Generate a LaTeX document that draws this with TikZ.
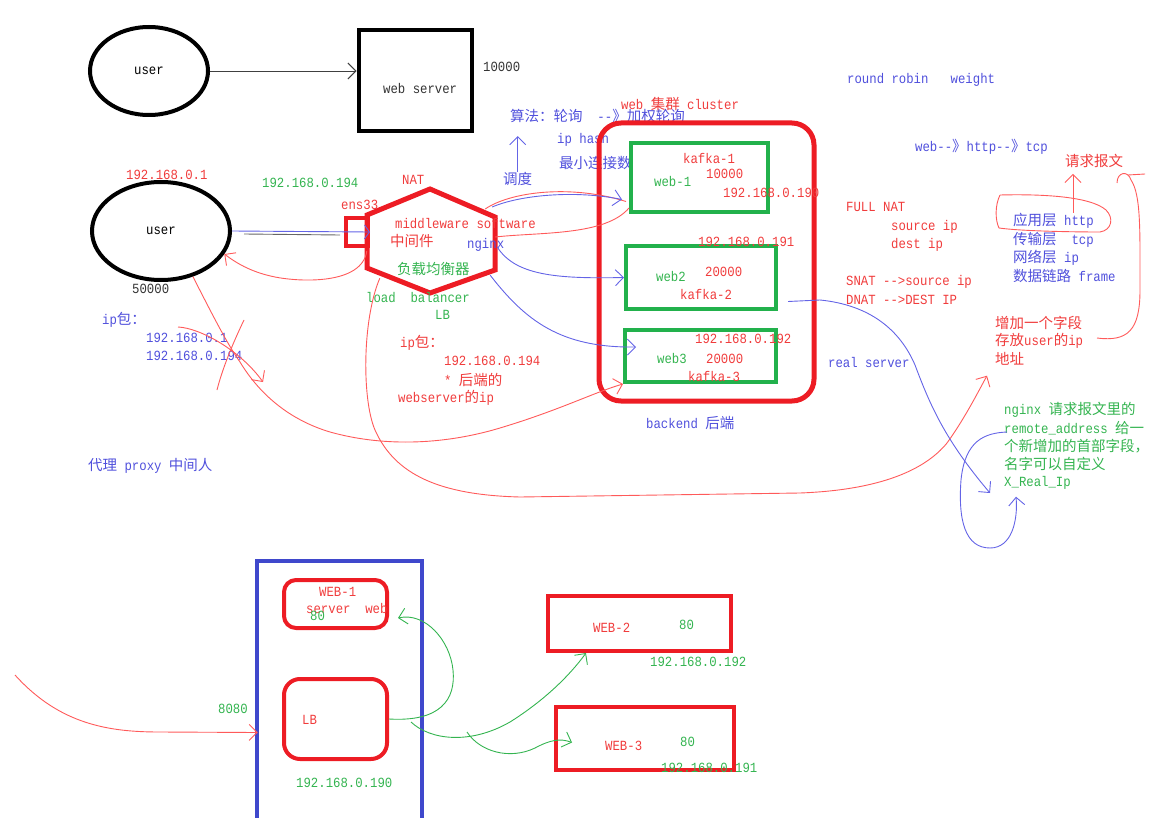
\documentclass[tikz,border=0pt]{standalone}
\usepackage{fontspec}
\setmainfont{Liberation Mono}[FakeStretch=0.88]
\newfontfamily\cjkfam{Noto Sans CJK SC}
\newcommand\zh[1]{{\cjkfam\fontsize{14.5}{16}\selectfont #1}}
\usetikzlibrary{shapes.geometric,arrows.meta,calc}
\definecolor{tred}{HTML}{F03C3C}
\definecolor{lred}{HTML}{FF5A5A}
\definecolor{bred}{HTML}{ED1C24}
\definecolor{tblue}{HTML}{5050DC}
\definecolor{lblue}{HTML}{6464E6}
\definecolor{bblue}{HTML}{3F48CC}
\definecolor{tgreen}{HTML}{34B450}
\definecolor{bgreen}{HTML}{22B14C}
\definecolor{tdark}{HTML}{333333}

\begin{document}
\begin{tikzpicture}[x=1pt, y=-1pt,
    font=\fontsize{14}{16}\selectfont,
    lbl/.style={anchor=west, inner sep=0pt},
    rtxt/.style={lbl, text=tred},
    btxt/.style={lbl, text=tblue},
    gtxt/.style={lbl, text=tgreen},
    ktxt/.style={lbl, text=tdark},
    thickbox/.style={draw, line width=4.5pt, inner sep=0pt},
    pen/.style={line width=0.9pt},
    >={Straight Barb[length=8pt, width=16pt]}]
    \useasboundingbox (0,0) rectangle (1174,818);
    \clip (0,0) rectangle (1174,818);

    % user -> web server
    \node[ellipse, draw, line width=4pt, inner sep=0pt, minimum width=118pt, minimum height=88pt] (user1) at (149,71) {user};
    \node[thickbox, draw=black, line width=4pt, minimum width=113pt, minimum height=101pt] (websrv) at (415,81) {};
    \node[ktxt] (websrvname) at (383,88) {web server};
    \node[ktxt] (webport) at (483,67) {10000};
    \draw[pen, black!75, ->] (user1.east) -- (websrv.west |- user1.east);

    % user -> nginx (NAT)
    \node[ellipse, draw, line width=4pt, inner sep=0pt, minimum width=138pt, minimum height=98pt] (user2) at (161,231) {user};
    \node[rtxt] (userip) at (126,175) {192.168.0.1};
    \node[ktxt] (userport) at (132,289) {50000};
    \node[gtxt] (vip) at (262,183) {192.168.0.194};
    \node[rtxt] (nat) at (402,180) {NAT};
    \node[rtxt] (ensname) at (341,205) {ens33};
    \node[thickbox, draw=bred, line width=4pt, minimum width=22pt, minimum height=28pt] (ens) at (357,232) {};
    \draw[line width=5pt, bred] (430,189) -- (495,217) -- (495,270) -- (430,293) -- (367,268) -- (367,215) -- cycle;
    \node[minimum width=128pt, minimum height=104pt] (lbhex) at (431,241) {};
    \node[rtxt] (mwsoft) at (395,224) {middleware software};
    \node[rtxt] (mwzh) at (390,241) {\zh{中间件}};
    \node[btxt] (nginx) at (467,245) {nginx};
    \node[gtxt] (lbzh) at (397,269) {\zh{负载均衡器}};
    \node[gtxt] (lbname) at (366,298) {load\ \ balancer};
    \node[gtxt] (lbshort) at (435,315) {LB};
    \draw[pen, black!60] ($(user2.east)+(12,3)$) -- ($(ens.west)+(-4,3)$);
    \draw[pen, lblue, ->, >={Straight Barb[length=5pt, width=14pt]}] (user2.east) -- (ens.east);
    \draw[pen, lred, ->] ($(lbhex.west)+(0,10)$) .. controls (362,285) and (300,282) .. (275,277)
        .. controls (250,272) and (235,262) .. (user2.-20);

    % ip packets
    \node[btxt] (pkt) at (102,320) {ip\zh{包：}};
    \node[btxt] (pktsrc) at (146,338) {192.168.0.1};
    \node[btxt] (pktdst) at (146,356) {192.168.0.194};
    \node[rtxt] (pkt2) at (400,343) {ip\zh{包：}};
    \node[rtxt] (pkt2dst) at (444,361) {192.168.0.194};
    \node[rtxt] (pkt2a) at (444,380) {* \zh{后端的}};
    \node[rtxt] (pkt2b) at (398,398) {webserver\zh{的}ip};
    \node[btxt] (proxy) at (88,466) {\zh{代理} proxy \zh{中间人}};
    \draw[pen, lred] (244,320) .. controls (232,345) and (222,370) .. (217,390);
    \draw[pen, lred, ->] (178,327) .. controls (200,328) and (240,350) .. (263,382);

    % scheduling
    \node[btxt] (algo) at (510,116) {\zh{算法：轮询}\ \ -{}-\zh{》加权轮询}};
    \node[btxt] (iphash) at (557,140) {ip hash};
    \node[btxt] (leastconn) at (559,163) {\zh{最小连接数}};
    \node[btxt] (sched) at (503,179) {\zh{调度}};
    \draw[pen, lblue, ->] (sched.north) -- ++(0,-36);

    % web cluster
    \node[rtxt] (clname) at (621,104) {web \zh{集群} cluster};
    \node[thickbox, draw=bred, line width=5pt, rounded corners=22pt, minimum width=215pt, minimum height=278pt] (cluster) at (706.5,262) {};
    \node[thickbox, draw=bgreen, line width=4pt, minimum width=137pt, minimum height=69pt] (web1) at (699.5,177.5) {};
    \node[thickbox, draw=bgreen, line width=4pt, minimum width=150pt, minimum height=63pt] (web2) at (701,277.5) {};
    \node[thickbox, draw=bgreen, line width=4pt, minimum width=151pt, minimum height=52pt] (web3) at (700.5,356) {};
    \node[rtxt] (kafka1) at (683,158) {kafka-1};
    \node[rtxt] (port1) at (706,174) {10000};
    \node[gtxt] (web1name) at (654,181) {web-1};
    \node[rtxt] (ip1) at (723,193) {192.168.0.190};
    \node[rtxt] (ip2) at (698,242) {192.168.0.191};
    \node[gtxt] (web2name) at (656,276) {web2};
    \node[rtxt] (port2) at (705,272) {20000};
    \node[rtxt] (kafka2) at (680,294) {kafka-2};
    \node[rtxt] (ip3) at (695,339) {192.168.0.192};
    \node[gtxt] (web3name) at (657,358) {web3};
    \node[rtxt] (port3) at (706,359) {20000};
    \node[rtxt] (kafka3) at (688,376) {kafka-3};
    \node[btxt] (backend) at (646,423) {backend \zh{后端}};
    \draw[pen, lred] ($(lbhex.east)+(-10,-32)$) .. controls (510,192) and (570,184) .. ($(web1.west)+(-3,24)$);
    \draw[pen, lred] ($(lbhex.east)+(0,-4)$) .. controls (540,232) and (605,236) .. ($(web1.south west)+(0,-6)$);
    \draw[pen, lblue, ->] ($(lbhex.east)+(-3,-34)$) .. controls (520,195) and (575,190) .. ($(web1.west)+(-7,22)$);
    \draw[pen, lblue, ->] ($(lbhex.east)+(2,6)$) .. controls (515,275) and (555,279) .. (web2.west);
    \draw[pen, lblue, ->] ($(lbhex.south east)+(-5,-18)$) .. controls (525,320) and (560,348) .. ($(web3.west)+(13,-9)$);
    \draw[pen, lred, ->] (user2.-55) .. controls (215,320) and (228,345) .. (240,362)
        .. controls (260,395) and (290,420) .. (330,432)
        .. controls (380,446) and (440,446) .. (500,428)
        .. controls (560,410) and (595,392) .. (web3.south west);

    % NAT notes
    \node[btxt] (rr) at (847,80) {round robin\ \ \ weight};
    \node[btxt] (stack) at (915,147) {web-{}-\zh{》}http-{}-\zh{》}tcp};
    \node[rtxt] (fullnat) at (846,207) {FULL NAT};
    \node[rtxt] (srcip) at (891,227) {source ip};
    \node[rtxt] (dstip) at (891,245) {dest ip};
    \node[rtxt] (snat) at (846,282) {SNAT -{}->source ip};
    \node[rtxt] (dnat) at (846,300) {DNAT -{}->DEST IP};
    \node[btxt] (realsrv) at (828,362) {real server};

    % layers
    \node[rtxt] (reqmsg) at (1065,161) {\zh{请求报文}};
    \node[btxt] (app1) at (1013,221) {\zh{应用层} http};
    \node[btxt] (app2) at (1013,240) {\zh{传输层}\ \ tcp};
    \node[btxt] (app3) at (1013,258) {\zh{网络层} ip};
    \node[btxt] (app4) at (1013,276) {\zh{数据链路} frame};
    \draw[pen, lred] (1000,195) .. controls (1040,194) and (1090,196) .. (1106,210)
        .. controls (1114,218) and (1112,230) .. (1100,232)
        .. controls (1070,232) and (1020,231) .. (999,228)
        .. controls (995,220) and (995,205) .. (1000,195);
    \draw[pen, lred, ->] ($(reqmsg.south west)+(8,45)$) -- ($(reqmsg.south west)+(8,6)$);
    \draw[pen, lred] (1145,174) -- (1128,175);
    \draw[pen, lred] (1117,183) .. controls (1117,172) and (1128,170) .. (1131,180)
        .. controls (1141,195) and (1140,230) .. (1140,290)
        .. controls (1140,330) and (1128,342) .. (1097,338);
    \node[rtxt] (af1) at (995,323) {\zh{增加一个字段}};
    \node[rtxt] (af2) at (995,341) {\zh{存放}user\zh{的}ip};
    \node[rtxt] (af3) at (995,359) {\zh{地址}};

    % X_Real_Ip
    \node[gtxt] (ng1) at (1004,410) {nginx \zh{请求报文里的}};
    \node[gtxt] (ng2) at (1004,428) {remote\_address \zh{给一}};
    \node[gtxt] (ng3) at (1004,446) {\zh{个新增加的首部字段，}};
    \node[gtxt] (ng4) at (1004,464) {\zh{名字可以自定义}};
    \node[gtxt] (ng5) at (1004,483) {X\_Real\_Ip};
    \draw[pen, lred, ->] ($(lbhex.south west)+(13,-15)$) .. controls (362,320) and (362,400) .. (375,430)
        .. controls (395,475) and (440,495) .. (520,497) -- (800,493)
        .. controls (880,490) and (925,470) .. (947,443)
        .. controls (965,418) and (978,392) .. ($(af3.south west)+(-8,10)$);
    \draw[pen, lblue, ->] ($(web2.east)+(10,24)$) -- (820,300) .. controls (870,305) and (900,330) .. (915,365)
        .. controls (930,405) and (945,440) .. ($(ng5.west)+(-14,10)$);
    \draw[pen, lblue, ->] ($(ng2.west)+(3,4)$) .. controls (985,433) and (965,440) .. (961,480)
        .. controls (958,520) and (965,548) .. (990,548)
        .. controls (1012,548) and (1018,520) .. ($(ng5.south west)+(12,7)$);

    % host with LB on 8080
    \node[thickbox, draw=bblue, minimum width=165pt, minimum height=261pt] (host) at (339.5,691.5) {};
    \node[thickbox, draw=bred, line width=4pt, rounded corners=12pt, minimum width=103pt, minimum height=48pt] (hweb1) at (335.5,604) {};
    \node[thickbox, draw=bred, line width=4pt, rounded corners=16pt, minimum width=103pt, minimum height=80pt] (hlb) at (335.5,719) {};
    \node[rtxt] (hweb1name) at (319,592) {WEB-1};
    \node[rtxt] (hweb1sub) at (306,608) {server\ \ web};
    \node[gtxt] (hweb1port) at (310,616) {80};
    \node[rtxt] (hlbname) at (302,720) {LB};
    \node[gtxt] (hostip) at (296,783) {192.168.0.190};
    \node[gtxt] (hostport) at (218,709) {8080};
    \draw[pen, lred, ->] (15,675) .. controls (60,725) and (110,732) .. (160,732) -- ($(host.west)+(3,41)$);

    % WEB-2 / WEB-3
    \node[thickbox, draw=bred, line width=4pt, minimum width=183pt, minimum height=55pt] (hweb2) at (639.5,623.5) {};
    \node[thickbox, draw=bred, line width=4pt, minimum width=178pt, minimum height=63pt] (hweb3) at (645,738.5) {};
    \node[rtxt] (hweb2name) at (593,628) {WEB-2};
    \node[gtxt] (hweb2port) at (679,625) {80};
    \node[gtxt] (hweb2ip) at (650,662) {192.168.0.192};
    \node[rtxt] (hweb3name) at (605,746) {WEB-3};
    \node[gtxt] (hweb3port) at (680,742) {80};
    \node[gtxt] (hweb3ip) at (661,768) {192.168.0.191};
    \draw[pen, tgreen, ->] (hlb.east) .. controls (440,722) and (456,700) .. (453,670)
        .. controls (450,640) and (425,612) .. ($(hweb1.east)+(9,14)$);
    \draw[pen, tgreen, ->] ($(hlb.east)+(22,3)$) .. controls (430,740) and (470,745) .. (510,722)
        .. controls (545,700) and (570,675) .. ($(hweb2.south west)+(40,0)$);
    \draw[pen, tgreen, ->] (467,732) .. controls (480,752) and (510,760) .. (535,748)
        .. controls (550,740) and (560,738) .. ($(hweb3.west)+(18,4)$);
\end{tikzpicture}
\end{document}
